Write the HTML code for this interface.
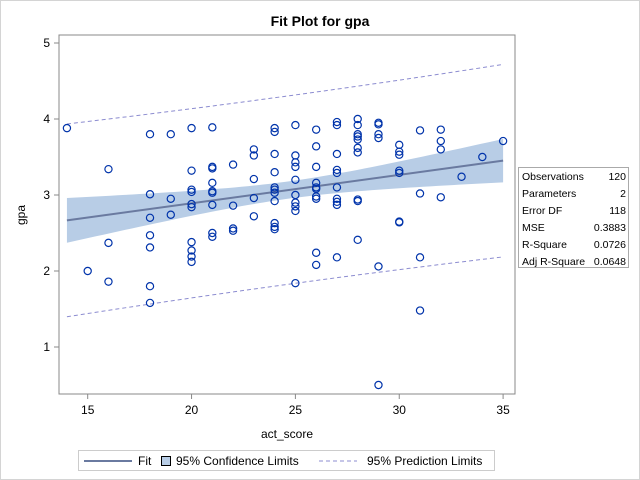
<!DOCTYPE html>
<html><head><meta charset="utf-8"><style>
body{margin:0;background:#fff;font-family:"Liberation Sans",sans-serif;}
#wrap{position:relative;width:638px;height:478px;border:1px solid #d4d4d4;overflow:hidden;background:#fff}
</style></head><body>
<div id="wrap">
<svg id="chart" width="638" height="478" xmlns="http://www.w3.org/2000/svg"></svg>
</div>
<script>
const xs = [14,15,16,16,16,18,18,18,18,18,18,18,19,19,19,
20,20,20,20,20,20,20,20,20,20,
21,21,21,21,21,21,21,21,21,
22,22,22,22,
23,23,23,23,23,
24,24,24,24,24,24,24,24,24,24,24,
25,25,25,25,25,25,25,25,25,25,
26,26,26,26,26,26,26,26,26,26,
27,27,27,27,27,27,27,27,27,27,
28,28,28,28,28,28,28,28,28,28,
29,29,29,29,29,29,
30,30,30,30,30,30,30,
31,31,31,31,
32,32,32,32,
33,34,35];
const ys = [3.88,2.0,3.34,2.37,1.86,3.80,3.01,2.70,2.47,2.31,1.80,1.58,3.80,2.95,2.74,
3.88,3.32,3.07,3.04,2.88,2.84,2.38,2.27,2.19,2.12,
3.89,3.37,3.35,3.16,3.05,3.03,2.87,2.50,2.45,
3.40,2.86,2.56,2.53,
3.60,3.52,3.21,2.96,2.72,
3.88,3.83,3.54,3.30,3.10,3.07,3.03,2.92,2.63,2.58,2.55,
3.92,3.52,3.43,3.37,3.20,3.00,2.90,2.85,2.79,1.84,
3.86,3.64,3.37,3.16,3.10,3.08,2.98,2.95,2.24,2.08,
3.96,3.92,3.54,3.33,3.29,3.10,2.95,2.91,2.87,2.18,
4.00,3.92,3.80,3.77,3.73,3.62,3.56,2.94,2.92,2.41,
3.95,3.93,3.80,3.75,2.06,0.50,
3.66,3.57,3.53,3.32,3.29,2.65,2.64,
3.85,3.02,2.18,1.48,
3.86,3.71,3.60,2.97,
3.24,3.50,3.71];
const xTicks = [15,20,25,30,35];
const yTicks = [1,2,3,4,5];
const statLabels = ["Observations","Parameters","Error DF","MSE","R-Square","Adj R-Square"];
const statValues = ["120","2","118","0.3883","0.0726","0.0648"];

const NS="http://www.w3.org/2000/svg";
const svg=document.getElementById('chart');
function mk(tag,attrs,parent){const e=document.createElementNS(NS,tag);for(const k in attrs)e.setAttribute(k,attrs[k]);(parent||svg).appendChild(e);return e;}
const X=v=>86.7+(v-15)*20.77;
const Y=v=>346-(v-1)*76;
const L=58,R=514,T=34,B=393;

const n=xs.length;
const mx=xs.reduce((a,b)=>a+b,0)/n, my=ys.reduce((a,b)=>a+b,0)/n;
let sxx=0,sxy=0;for(let i=0;i<n;i++){sxx+=(xs[i]-mx)**2;sxy+=(xs[i]-mx)*(ys[i]-my);}
const b1=sxy/sxx,b0=my-b1*mx;
let sse=0;for(let i=0;i<n;i++){sse+=(ys[i]-b0-b1*xs[i])**2;}
const s=Math.sqrt(sse/(n-2)),t=1.98;
const xmin=Math.min(...xs),xmax=Math.max(...xs);
const grid=[];for(let k=0;k<=60;k++)grid.push(xmin+(xmax-xmin)*k/60);
const fit=x=>b0+b1*x;
const ci=x=>t*s*Math.sqrt(1/n+(x-mx)**2/sxx);
const pi=x=>t*s*Math.sqrt(1+1/n+(x-mx)**2/sxx);

let tt=mk('text',{x:319,y:25,'text-anchor':'middle','font-size':14,'font-weight':'bold',fill:'#000'});tt.textContent='Fit Plot for gpa';


let up=grid.map(x=>X(x)+','+Y(fit(x)+ci(x))).join(' ');
let dn=grid.slice().reverse().map(x=>X(x)+','+Y(fit(x)-ci(x))).join(' ');
let band=mk('polygon',{points:up+' '+dn,fill:'#b8cde6'});

['u','l'].forEach(k=>{
 let p=mk('polyline',{points:grid.map(x=>X(x)+','+Y(fit(x)+(k=='u'?1:-1)*pi(x))).join(' '),fill:'none',stroke:'#8c8cd0','stroke-width':1,'stroke-dasharray':'4,3'});
 
 
});
let fl=mk('line',{x1:X(xmin),y1:Y(fit(xmin)),x2:X(xmax),y2:Y(fit(xmax)),stroke:'#6a7aa0','stroke-width':2});

for(let i=0;i<n;i++){
 let c=mk('circle',{cx:X(xs[i]),cy:Y(ys[i]),r:3.6,fill:'none',stroke:'#0033aa','stroke-width':1.2});
 
 
}
let fr=mk('rect',{x:L,y:T,width:R-L,height:B-T,fill:'none',stroke:'#888','stroke-width':1});

xTicks.forEach(v=>{
 mk('line',{x1:X(v),y1:B,x2:X(v),y2:B+5,stroke:'#888'});
 let tx=mk('text',{x:X(v),y:B+20,'text-anchor':'middle','font-size':12,fill:'#000'});tx.textContent=v;
 
});
yTicks.forEach(v=>{
 mk('line',{x1:L-5,y1:Y(v),x2:L,y2:Y(v),stroke:'#888'});
 let tx=mk('text',{x:L-9,y:Y(v)+4,'text-anchor':'end','font-size':12,fill:'#000'});tx.textContent=v;
 
});
let xl=mk('text',{x:286,y:437,'text-anchor':'middle','font-size':12,fill:'#000'});xl.textContent='act_score';

let yl=mk('text',{x:24,y:214,'text-anchor':'middle','font-size':12,fill:'#000',transform:'rotate(-90 24 214)'});yl.textContent='gpa';


let tb=mk('rect',{x:517.5,y:166.5,width:110,height:100,fill:'#fff',stroke:'#aaa'});

statLabels.forEach((lab,i)=>{
 let a=mk('text',{x:521,y:179+i*17,'font-size':10.5,fill:'#000'});a.textContent=lab;
 
 let b=mk('text',{x:625,y:179+i*17,'text-anchor':'end','font-size':10.5,fill:'#000'});b.textContent=statValues[i];
 
});

let lg=mk('rect',{x:77.5,y:449.5,width:416,height:20,fill:'#fff',stroke:'#ccc'});

mk('line',{x1:83,y1:460,x2:131,y2:460,stroke:'#6a7aa0','stroke-width':2});
let t1=mk('text',{x:137,y:464,'font-size':12,fill:'#000'});t1.textContent='Fit';

mk('rect',{x:160.5,y:455.5,width:9,height:9,fill:'#b8cde6',stroke:'#000'});
let t2=mk('text',{x:175,y:464,'font-size':12,fill:'#000'});t2.textContent='95% Confidence Limits';

mk('line',{x1:318,y1:460,x2:356,y2:460,stroke:'#8c8cd0','stroke-dasharray':'4,3'});
let t3=mk('text',{x:366,y:464,'font-size':12,fill:'#000'});t3.textContent='95% Prediction Limits';

</script>
</body></html>
